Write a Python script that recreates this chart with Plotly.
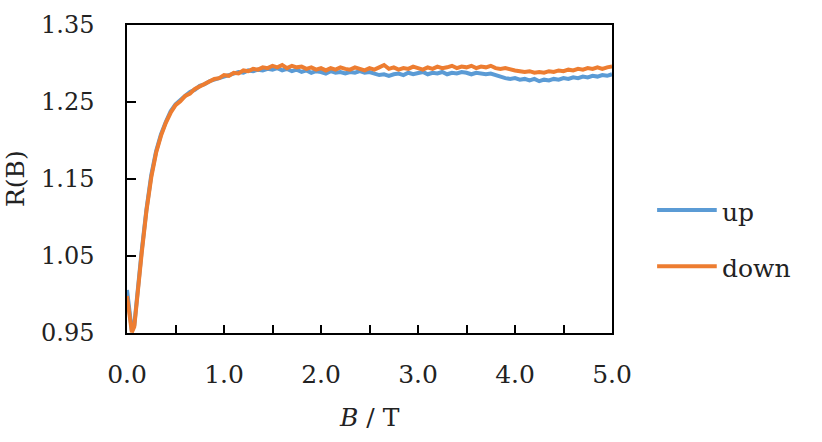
import plotly.graph_objects as go

B_T = [0, 0.025, 0.05, 0.075, 0.1, 0.15, 0.2, 0.25, 0.3, 0.35, 0.4, 0.45, 0.5,
       0.55, 0.6, 0.65, 0.7, 0.75, 0.8, 0.85, 0.9, 0.95, 1.0,
       1.05, 1.1, 1.15, 1.2, 1.25, 1.3, 1.35, 1.4, 1.45, 1.5,
       1.55, 1.6, 1.65, 1.7, 1.75, 1.8, 1.85, 1.9, 1.95, 2.0,
       2.05, 2.1, 2.15, 2.2, 2.25, 2.3, 2.35, 2.4, 2.45, 2.5,
       2.55, 2.6, 2.65, 2.7, 2.75, 2.8, 2.85, 2.9, 2.95, 3.0,
       3.05, 3.1, 3.15, 3.2, 3.25, 3.3, 3.35, 3.4, 3.45, 3.5,
       3.55, 3.6, 3.65, 3.7, 3.75, 3.8, 3.85, 3.9, 3.95, 4.0,
       4.05, 4.1, 4.15, 4.2, 4.25, 4.3, 4.35, 4.4, 4.45, 4.5,
       4.55, 4.6, 4.65, 4.7, 4.75, 4.8, 4.85, 4.9, 4.95, 5.0]

R_up = [1.006, 0.978, 0.953, 0.960, 0.995, 1.055, 1.110, 1.155, 1.186, 1.208, 1.224, 1.238, 1.247,
        1.253, 1.258, 1.263, 1.266, 1.271, 1.273, 1.277, 1.279, 1.282, 1.283,
        1.286, 1.287, 1.289, 1.288, 1.291, 1.290, 1.292, 1.291, 1.293, 1.292,
        1.294, 1.291, 1.293, 1.290, 1.292, 1.289, 1.291, 1.288, 1.290, 1.289,
        1.287, 1.290, 1.288, 1.289, 1.287, 1.289, 1.288, 1.290, 1.288, 1.289,
        1.287, 1.285, 1.286, 1.284, 1.286, 1.287, 1.285, 1.288, 1.286, 1.287,
        1.289, 1.286, 1.288, 1.287, 1.289, 1.286, 1.288, 1.287, 1.289, 1.288,
        1.286, 1.288, 1.287, 1.286, 1.287, 1.285, 1.282, 1.281, 1.280, 1.281,
        1.279, 1.280, 1.278, 1.280, 1.277, 1.279, 1.278, 1.280, 1.279, 1.281,
        1.280, 1.282, 1.281, 1.283, 1.282, 1.284, 1.283, 1.285, 1.284, 1.286]

R_down = [0.998, 0.972, 0.951, 0.958, 0.992, 1.052, 1.108, 1.152, 1.184, 1.206, 1.223, 1.236, 1.246,
          1.251, 1.258, 1.261, 1.267, 1.270, 1.274, 1.276, 1.280, 1.281, 1.285,
          1.284, 1.288, 1.287, 1.291, 1.290, 1.293, 1.292, 1.295, 1.294, 1.297,
          1.295, 1.298, 1.294, 1.297, 1.295, 1.296, 1.293, 1.295, 1.292, 1.294,
          1.291, 1.294, 1.292, 1.295, 1.293, 1.292, 1.295, 1.293, 1.291, 1.294,
          1.292, 1.295, 1.298, 1.293, 1.295, 1.292, 1.294, 1.293, 1.296, 1.294,
          1.292, 1.295, 1.293, 1.296, 1.294, 1.295, 1.297, 1.294, 1.296, 1.295,
          1.297, 1.294, 1.296, 1.295, 1.297, 1.294, 1.293, 1.294, 1.292, 1.291,
          1.290, 1.289, 1.290, 1.288, 1.289, 1.288, 1.290, 1.289, 1.291, 1.290,
          1.292, 1.291, 1.293, 1.292, 1.294, 1.293, 1.295, 1.293, 1.295, 1.296]

series_names = ["up", "down"]
colors = ["#5B9BD5", "#ED7D31"]
x_ticks = [0.0, 1.0, 2.0, 3.0, 4.0, 5.0]
y_ticks = [0.95, 1.05, 1.15, 1.25, 1.35]
x_title = "<i>B</i> / T"
y_title = "R(B)"

FONT = "DejaVu Serif"
TXT = "#222222"

fig = go.Figure()
for name, ys, col in zip(series_names, [R_up, R_down], colors):
    fig.add_trace(go.Scatter(x=B_T, y=ys, mode="lines", name=name,
                             line=dict(color=col, width=4), showlegend=False))

# custom legend (long line samples)
legend_y = [0.399, 0.217]
for name, col, ly in zip(series_names, colors, legend_y):
    fig.add_shape(type="line", xref="paper", yref="paper",
                  x0=1.093, x1=1.216, y0=ly, y1=ly,
                  line=dict(color=col, width=4))
    fig.add_annotation(xref="paper", yref="paper", x=1.222, y=ly, text=name,
                       showarrow=False, xanchor="left", yanchor="middle",
                       yshift=-2,
                       font=dict(family=FONT, size=25, color=TXT))

# axis titles
fig.add_annotation(xref="paper", yref="paper", x=0, y=0.5, xshift=-112,
                   text=y_title, textangle=-90, showarrow=False,
                   xanchor="center", yanchor="middle",
                   font=dict(family=FONT, size=25, color=TXT))
fig.add_annotation(xref="paper", yref="paper", x=0.5, y=0, yshift=-84,
                   text=x_title, showarrow=False,
                   xanchor="center", yanchor="middle",
                   font=dict(family=FONT, size=25, color=TXT))

fig.update_layout(
    width=822, height=442,
    margin=dict(l=127, r=210, t=25, b=109),
    paper_bgcolor="white", plot_bgcolor="white",
    font=dict(family=FONT, size=24, color=TXT),
)
fig.update_xaxes(
    range=[0, 5.0], tickvals=x_ticks, tickformat=".1f",
    ticks="inside", ticklen=8, tickwidth=1.5, tickcolor="black",
    minor=dict(dtick=0.5, tick0=0, ticks="inside", ticklen=8, tickwidth=1.5, tickcolor="black"),
    showline=True, linecolor="black", linewidth=1.5, mirror=True,
    showgrid=False, zeroline=False,
    tickfont=dict(family=FONT, size=25, color=TXT),
    ticklabelstandoff=18,
)
fig.update_yaxes(
    range=[0.95, 1.35], tickvals=y_ticks, tickformat=".2f",
    ticks="inside", ticklen=9, tickwidth=1.5, tickcolor="black",
    showline=True, linecolor="black", linewidth=1.5, mirror=True,
    showgrid=False, zeroline=False,
    tickfont=dict(family=FONT, size=24, color=TXT),
    ticklabelstandoff=26,
)

fig.write_html("out.html")
